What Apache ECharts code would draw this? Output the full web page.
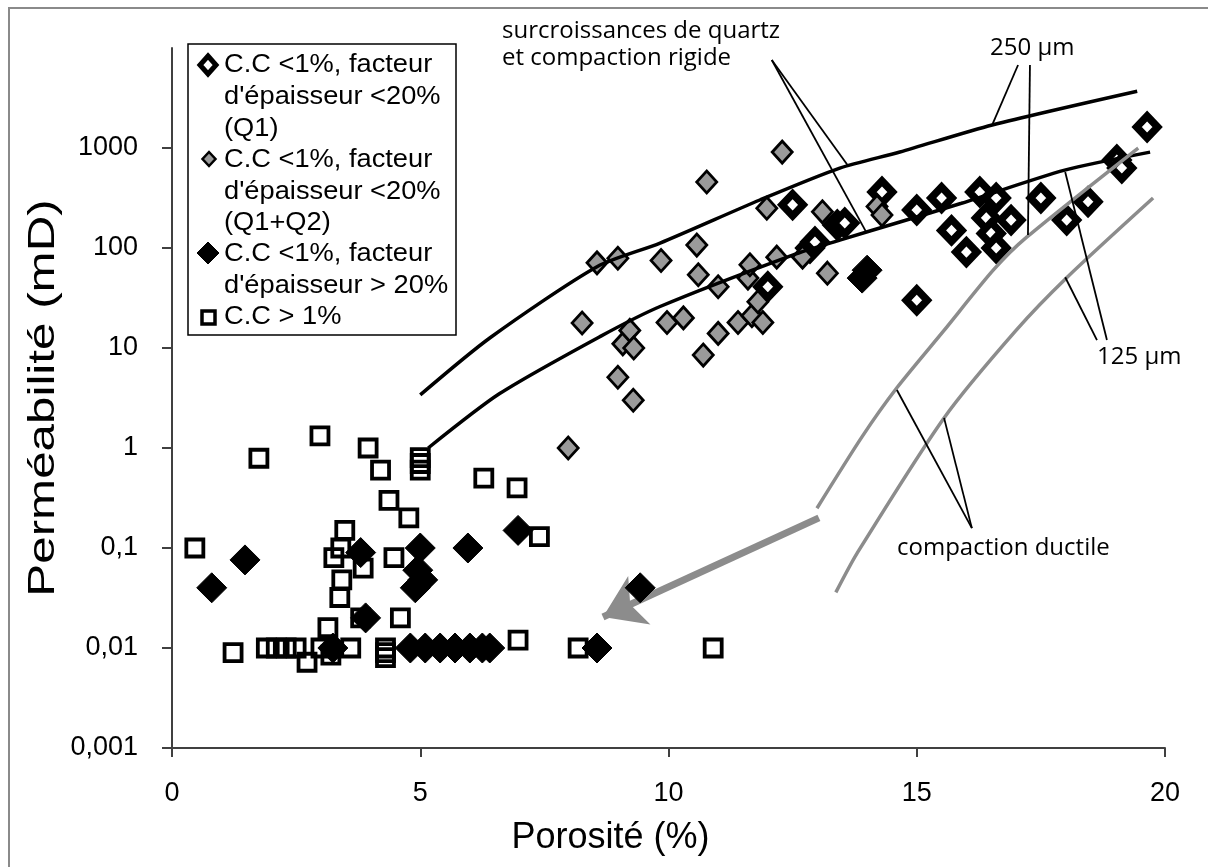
<!DOCTYPE html>
<html><head><meta charset="utf-8">
<script src="https://cdn.jsdelivr.net/npm/echarts@6/dist/echarts.min.js"></script>
<style>html,body{margin:0;padding:0;background:#fff}#c{width:1208px;height:867px}</style>
</head><body><div id="c"></div>
<script>
// ---- data ----
const xTickValues = [0, 5, 10, 15, 20];
const yTickValues = [0.001, 0.01, 0.1, 1, 10, 100, 1000];
const yTickLabels = ['0,001', '0,01', '0,1', '1', '10', '100', '1000'];
const xAxisTitle = 'Porosité (%)';
const yAxisTitle = 'Perméabilité (mD)';

const seriesNames = [
  "C.C <1%, facteur d'épaisseur <20% (Q1)",
  "C.C <1%, facteur d'épaisseur <20% (Q1+Q2)",
  "C.C <1%, facteur d'épaisseur > 20%",
  "C.C > 1%"
];

const q1Points = [[12.0,41],[12.5,270],[12.85,100],[12.95,115],[13.4,170],[13.55,178],[14.3,363],[15.0,240],[15.0,30],[15.5,316],[15.7,150],[16.0,91],[16.27,363],[16.4,200],[16.5,140],[16.6,316],[16.6,100],[16.9,190],[17.5,316],[18.02,190],[18.45,290],[19.03,760],[19.13,630],[19.64,1620]];

const q1q2Points = [[7.98,1.0],[8.26,17.8],[8.56,71],[8.98,79],[8.98,5.1],[9.08,11],[9.22,15],[9.3,10],[9.29,3.0],[9.85,75],[9.97,18],[10.3,20],[10.57,107],[10.6,54],[10.77,457],[10.7,8.5],[11.0,41],[11.0,14],[11.4,18],[11.6,50],[11.64,68],[11.68,21],[11.8,29],[11.9,18],[11.98,250],[12.18,81],[12.29,910],[12.7,81],[13.1,230],[13.2,56],[14.2,260],[14.3,214]];

const thickPoints = [[0.8,0.04],[1.47,0.076],[3.24,0.01],[3.8,0.09],[3.9,0.02],[4.9,0.04],[4.95,0.06],[5.0,0.1],[5.05,0.048],[5.96,0.1],[6.97,0.15],[9.43,0.04],[8.56,0.01],[4.8,0.01],[5.1,0.01],[5.4,0.01],[5.7,0.01],[6.0,0.01],[6.25,0.01],[6.4,0.01],[13.9,50],[14.0,60]];

const ccPoints = [[0.46,0.1],[1.23,0.009],[1.75,0.79],[1.9,0.01],[2.1,0.01],[2.3,0.01],[2.5,0.01],[2.72,0.0072],[2.98,1.32],[3.0,0.01],[3.14,0.016],[3.2,0.0085],[3.26,0.08],[3.48,0.15],[3.4,0.1],[3.42,0.048],[3.38,0.032],[3.85,0.063],[3.8,0.02],[3.6,0.01],[3.95,1.0],[4.2,0.6],[4.37,0.3],[4.77,0.2],[4.47,0.08],[4.6,0.02],[4.3,0.01],[4.3,0.009],[4.3,0.008],[5.0,0.8],[5.0,0.7],[5.0,0.6],[6.28,0.5],[6.95,0.4],[7.4,0.13],[6.97,0.012],[8.18,0.01],[10.9,0.01]];

// trend curves
const rigid250 = [[5.0,3.4],[6.4,12.6],[8.56,65],[9.83,112],[11.84,302],[13.45,630],[14.66,912],[16.52,1700],[19.44,3700]];
const rigid125 = [[5.16,1.0],[6.6,3.5],[8.62,13],[9.83,26],[12.5,85],[13.45,120],[14.66,182],[15.9,280],[17.98,600],[19.7,910]];
const ductile250 = [[12.99,0.25],[13.9,1.3],[14.6,4],[15.55,15],[16.54,60],[17.22,129],[19.46,1000]];
const ductile125 = [[13.37,0.036],[13.8,0.089],[15.55,2.0],[17.0,15],[18.03,51],[19.76,316]];
const arrowFromTo = [[13.03,0.2],[8.68,0.0204]];

// annotation leader lines (data coordinates)
const leaderLines = [
  [[12.08,7590],[13.62,661]],
  [[12.08,7590],[13.98,145]],
  [[17.04,6760],[16.52,1700]],
  [[17.28,6760],[17.24,135]],
  [[18.83,12],[17.99,575]],
  [[18.63,12],[17.99,51]],
  [[16.11,0.158],[14.6,3.8]],
  [[16.11,0.158],[15.55,2.0]]
];
const annotations = [
  {text: 'surcroissances de quartz', x: 502, y: 31},
  {text: 'et compaction rigide', x: 502, y: 58},
  {text: '250 µm', x: 990, y: 48},
  {text: '125 µm', x: 1097, y: 357},
  {text: 'compaction ductile', x: 897, y: 548}
];
const legendLines = [
  ['C.C <1%, facteur', "d'épaisseur <20%", '(Q1)'],
  ['C.C <1%, facteur', "d'épaisseur <20%", '(Q1+Q2)'],
  ['C.C <1%, facteur', "d'épaisseur > 20%"],
  ['C.C > 1%']
];

// ---- chart ----
const chart = echarts.init(document.getElementById('c'), null, {renderer: 'canvas'});
const FONT = 'Liberation Sans, Arial, sans-serif';
const ANN_FONT = 'Open Sans, Noto Sans, sans-serif';
const GRID = {left: 172, top: 48, right: 43, bottom: 119};

const series = [];
series.push({
  name: seriesNames[0], type: 'scatter', data: q1Points, symbol: 'diamond', symbolSize: [21, 22],
  itemStyle: {color: '#fff', borderColor: '#000', borderWidth: 7.5, opacity: 1}, z: 3
});
series.push({
  name: seriesNames[1], type: 'scatter', data: q1q2Points, symbol: 'diamond', symbolSize: [20, 22],
  itemStyle: {color: '#9a9a9a', borderColor: '#000', borderWidth: 2.8, opacity: 1}, z: 4
});
series.push({
  name: seriesNames[2], type: 'scatter', data: thickPoints, symbol: 'diamond', symbolSize: [30, 30],
  itemStyle: {color: '#000', borderColor: '#000', borderWidth: 1, opacity: 1}, z: 5
});
series.push({
  name: seriesNames[3], type: 'scatter', data: ccPoints, symbol: 'rect', symbolSize: 17,
  itemStyle: {color: 'rgba(255,255,255,0)', borderColor: '#000', borderWidth: 3.8, opacity: 1}, z: 6
});
const curve = (data, color) => ({
  type: 'line', data, showSymbol: false, symbol: 'none', smooth: 0.25, silent: true, z: 8,
  lineStyle: {color, width: 3.5}
});
series.push(curve(rigid250, '#000'));
series.push(curve(rigid125, '#000'));
series.push(curve(ductile250, '#8c8c8c'));
series.push(curve(ductile125, '#8c8c8c'));
leaderLines.forEach(l => series.push({
  type: 'line', data: l, showSymbol: false, symbol: 'none', silent: true, z: 9,
  lineStyle: {color: '#000', width: 1.8}
}));
// arrow
series.push({
  type: 'line', data: [], silent: true, z: 9,
  markLine: {
    silent: true, symbol: ['none', 'arrow'], symbolSize: 40, label: {show: false},
    lineStyle: {color: '#8c8c8c', width: 7, type: 'solid', opacity: 1}, emphasis: {disabled: true},
    itemStyle: {color: '#8c8c8c'},
    data: [[{coord: arrowFromTo[0]}, {coord: arrowFromTo[1]}]]
  }
});
// y-axis tick marks (outside), drawn at tick values through the axis scale
series.push({
  type: 'custom', silent: true, z: 2, clip: false,
  data: yTickValues.map(v => [0, v]),
  renderItem: (params, api) => {
    const p = api.coord([api.value(0), api.value(1)]);
    return {type: 'line', shape: {x1: p[0] - 10, y1: p[1], x2: p[0], y2: p[1]},
      style: {stroke: '#404040', lineWidth: 2}};
  }
});

// legend graphics
const lg = [];
lg.push({type: 'rect', shape: {x: 188, y: 44, width: 268, height: 291}, style: {fill: '#fff', stroke: '#000', lineWidth: 1.5}, z: 20});
const dia = (cx, cy, w, h) => [[cx, cy - h], [cx + w, cy], [cx, cy + h], [cx - w, cy]];
lg.push({type: 'polygon', shape: {points: dia(208, 65, 8, 9)}, style: {fill: '#fff', stroke: '#000', lineWidth: 5}, z: 21});
lg.push({type: 'polygon', shape: {points: dia(209, 159, 6.5, 7)}, style: {fill: '#9a9a9a', stroke: '#000', lineWidth: 2.5}, z: 21});
lg.push({type: 'polygon', shape: {points: dia(208, 253, 11, 11)}, style: {fill: '#000', stroke: '#000', lineWidth: 1}, z: 21});
lg.push({type: 'rect', shape: {x: 202, y: 311, width: 13, height: 13}, style: {fill: '#fff', stroke: '#000', lineWidth: 3.5}, z: 21});
const lineYs = [[65, 97, 129], [160, 192, 223], [254, 286], [317]];
legendLines.forEach((arr, i) => arr.forEach((t, j) => lg.push({
  type: 'text', x: 224, y: lineYs[i][j], z: 21, scaleX: 1.09,
  style: {text: t, font: '25px ' + FONT, fill: '#000', textVerticalAlign: 'middle', textAlign: 'left'}
})));
annotations.forEach(a => lg.push({
  type: 'text', x: a.x, y: a.y, z: 21,
  style: {text: a.text, font: '24px ' + ANN_FONT, fill: '#000', textVerticalAlign: 'middle', textAlign: 'left'}
}));
// y-axis title (stretched along its length like the original)
lg.push({
  type: 'text', x: 44, y: 398, rotation: Math.PI / 2, scaleX: 1.37, z: 21,
  style: {text: yAxisTitle, font: '36px ' + FONT, fill: '#000', textAlign: 'center', textVerticalAlign: 'middle'}
});
// outer frame
lg.push({type: 'rect', shape: {x: 9, y: 8, width: 1240, height: 900}, style: {fill: 'none', stroke: '#8a8a8a', lineWidth: 2}, z: 30, silent: true});

chart.setOption({
  animation: false,
  backgroundColor: '#fff',
  grid: GRID,
  xAxis: {
    type: 'value', min: 0, max: 20, interval: 5,
    name: xAxisTitle, nameLocation: 'middle', nameGap: 72,
    nameTextStyle: {fontFamily: FONT, fontSize: 36, color: '#000', padding: [0, 116, 0, 0]},
    axisLine: {lineStyle: {color: '#404040', width: 2}},
    axisTick: {show: true, length: 9, lineStyle: {color: '#404040', width: 2}},
    axisLabel: {fontFamily: FONT, fontSize: 27, color: '#000', margin: 32,
      formatter: v => xTickValues.includes(v) ? String(v) : ''},
    splitLine: {show: false}
  },
  yAxis: {
    type: 'log', logBase: 10, min: 0.001, max: 10000,
    axisLine: {show: true, lineStyle: {color: '#404040', width: 2}},
    axisTick: {show: false},
    axisLabel: {fontFamily: FONT, fontSize: 27, color: '#000', margin: 34,
      formatter: v => {
        const i = yTickValues.findIndex(t => Math.abs(Math.log10(t) - Math.log10(v)) < 1e-6);
        return i >= 0 ? yTickLabels[i] : '';
      }},
    splitLine: {show: false}
  },
  series,
  graphic: lg
});
</script></body></html>
